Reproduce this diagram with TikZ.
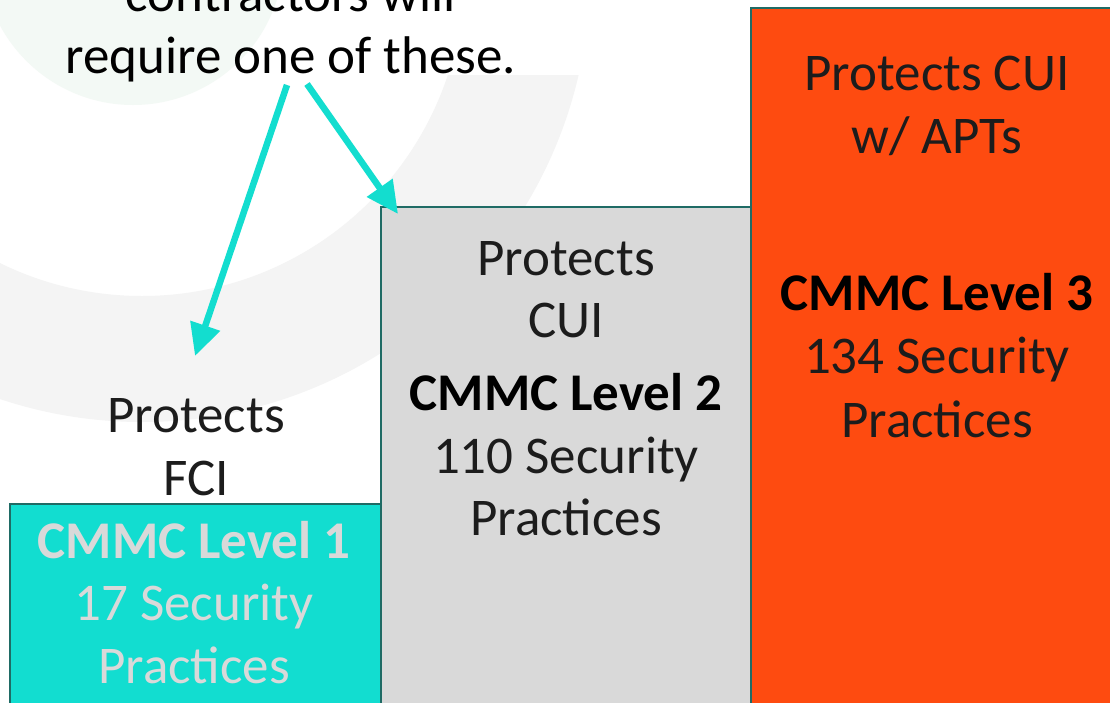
\documentclass[tikz,border=0pt]{standalone}
\usepackage{fontspec}
\setmainfont{Carlito}
\usetikzlibrary{arrows.meta}
\definecolor{tealfill}{HTML}{12DDD0}
\definecolor{grayfill}{HTML}{D9D9D9}
\definecolor{orangefill}{HTML}{FE4B10}
\definecolor{edgeteal}{HTML}{1F6B65}
\definecolor{ringgray}{HTML}{F4F4F4}
\definecolor{palegreen}{HTML}{F3F9F5}
\definecolor{darktext}{HTML}{1C1C1C}
\definecolor{lighttext}{HTML}{D9D9D9}
\definecolor{arrowteal}{HTML}{13DDCF}
\begin{document}
\begin{tikzpicture}[x=1pt,y=-1pt,
  bar/.style={draw=edgeteal,line width=1.5pt},
  txt/.style={anchor=base,inner sep=0pt,text=darktext,font=\fontsize{53pt}{63pt}\selectfont},
  btxt/.style={txt,text=black,font=\fontsize{53pt}{63pt}\selectfont\bfseries},
  ptr/.style={draw=arrowteal,line width=6.5pt,-{Triangle[length=32pt,width=30pt]}}]
\useasboundingbox (0,0) rectangle (1110,702);
\clip (0,0) rectangle (1110,702);
\fill[white] (0,0) rectangle (1110,702);
% background decoration
\fill[palegreen] (133,-46) circle (151pt);
\begin{scope}
\clip (0,75) rectangle (1110,702);
\fill[ringgray,even odd rule] (142,-26) circle (448pt) (142,-26) circle (322pt);
\end{scope}
% bars
\path[bar,fill=tealfill] (10,504) rectangle (381,720);
\path[bar,fill=grayfill] (381,207) rectangle (751,720);
\path[bar,fill=orangefill] (751,8) rectangle (1125,720);
% top text
\node[txt,text=black] (q1) at (291,11) {contractors will};
\node[txt,text=black] (q2) at (291,73) {require one of these.};
% level 1
\node[txt] (p1a) at (196,432) {Protects};
\node[txt] (p1b) at (196,495) {FCI};
\node[btxt,text=lighttext] (l1a) at (194,558) {CMMC Level 1};
\node[txt,text=lighttext] (l1b) at (194,620) {17 Security};
\node[txt,text=lighttext] (l1c) at (194,683) {Practices};
% level 2
\node[txt] (p2a) at (566,275) {Protects};
\node[txt] (p2b) at (566,337) {CUI};
\node[btxt] (l2a) at (566,410) {CMMC Level 2};
\node[txt] (l2b) at (566,473) {110 Security};
\node[txt] (l2c) at (566,535) {Practices};
% level 3
\node[txt] (p3a) at (937,90) {Protects CUI};
\node[txt] (p3b) at (937,153) {w/ APTs};
\node[btxt] (l3a) at (937,310) {CMMC Level 3};
\node[txt] (l3b) at (937,373) {134 Security};
\node[txt] (l3c) at (937,437) {Practices};
% arrows
\coordinate (s1) at (287,85);
\coordinate (t1) at (195,356);
\coordinate (s2) at (307,84);
\coordinate (t2) at (398,214);
\draw[ptr] (s1) -- (t1);
\draw[ptr] (s2) -- (t2);
\end{tikzpicture}
\end{document}
